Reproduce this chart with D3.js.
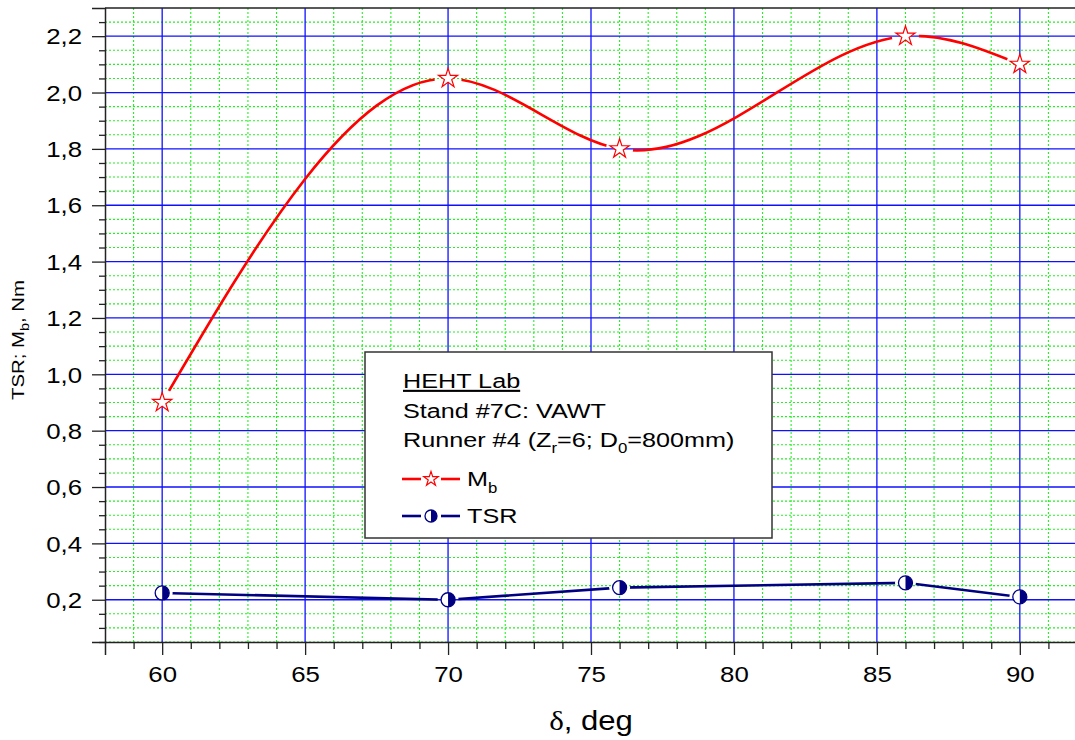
<!DOCTYPE html>
<html>
  <head>
    <meta charset="UTF-8">
    <style>
      body { margin: 0; background: #fff; }
      svg text { font-family: "Liberation Sans", Arial, sans-serif; fill: #000; }
    </style>
  </head>
  <body>
    <svg id="chart" width="1075" height="740"></svg>

    <script src="https://d3js.org/d3.v7.min.js"></script>
    <script>
      // chart data
      var delta = [60, 70, 76, 86, 90];
      var mb = [0.9, 2.05, 1.8, 2.2, 2.1];
      var tsr = [0.224, 0.2, 0.243, 0.26, 0.21];

      var xMajor = [60, 65, 70, 75, 80, 85, 90];
      var yMajor = [0.2, 0.4, 0.6, 0.8, 1.0, 1.2, 1.4, 1.6, 1.8, 2.0, 2.2];

      // natural cubic spline with x as the parameter (like Origin's spline connect)
      function curveSplineX(context) {
        var xs, ys;
        return {
          areaStart: function() {}, areaEnd: function() {},
          lineStart: function() { xs = []; ys = []; },
          point: function(px, py) { xs.push(+px); ys.push(+py); },
          lineEnd: function() {
            var n = xs.length;
            if (n < 3) {
              xs.forEach(function(v, i) { i ? context.lineTo(v, ys[i]) : context.moveTo(v, ys[i]); });
              return;
            }
            var h = [], d = [];
            for (var i = 0; i < n - 1; i++) { h.push(xs[i + 1] - xs[i]); d.push((ys[i + 1] - ys[i]) / h[i]); }
            // tridiagonal solve for second derivatives, M0 = Mn = 0
            var a = [], b = [], c = [], r = [];
            for (i = 1; i < n - 1; i++) {
              a.push(h[i - 1]); b.push(2 * (h[i - 1] + h[i])); c.push(h[i]); r.push(6 * (d[i] - d[i - 1]));
            }
            var m = a.length;
            for (i = 1; i < m; i++) {
              var w = a[i] / b[i - 1];
              b[i] -= w * c[i - 1]; r[i] -= w * r[i - 1];
            }
            var M = new Array(n).fill(0);
            M[m] = r[m - 1] / b[m - 1];
            for (i = m - 2; i >= 0; i--) M[i + 1] = (r[i] - c[i] * M[i + 2]) / b[i];
            context.moveTo(xs[0], ys[0]);
            for (i = 0; i < n - 1; i++) {
              var s0 = d[i] - h[i] * (2 * M[i] + M[i + 1]) / 6;
              var s1 = d[i] + h[i] * (M[i] + 2 * M[i + 1]) / 6;
              context.bezierCurveTo(xs[i] + h[i] / 3, ys[i] + s0 * h[i] / 3,
                                    xs[i + 1] - h[i] / 3, ys[i + 1] - s1 * h[i] / 3,
                                    xs[i + 1], ys[i + 1]);
            }
          }
        };
      }

      (function () {
        var svg = d3.select("#chart");
        var SX = 1.2; // the reference text is drawn wide

        var pLeft = 105, pTop = 8, pBottom = 642, pRight = 1077;

        var x = d3.scaleLinear().domain([58, 92]).range([pLeft, pRight]);
        var y = d3.scaleLinear().domain([0.05, 2.3]).range([pBottom, pTop]);

        // minor steps: 1 deg on x, 0.05 on y
        var xMinor = d3.range(59, 92, 1).filter(function(v) { return v % 5 != 0; });
        var yMinor = d3.range(1, 46).map(function(i) { return +(i * 0.05).toFixed(2); })
          .filter(function(v) { return Math.abs(v / 0.2 - Math.round(v / 0.2)) > 1e-6; });

        var grid = svg.append("g");

        // green dotted minor grid
        grid.selectAll(".gx").data(xMinor).enter().append("line")
            .attr("x1", function(d) { return x(d); }).attr("x2", function(d) { return x(d); })
            .attr("y1", pTop).attr("y2", pBottom)
            .attr("stroke", "#22f022").attr("stroke-width", 1.1).attr("stroke-dasharray", "2,2");
        grid.selectAll(".gy").data(yMinor).enter().append("line")
            .attr("y1", function(d) { return y(d); }).attr("y2", function(d) { return y(d); })
            .attr("x1", pLeft).attr("x2", pRight)
            .attr("stroke", "#22f022").attr("stroke-width", 1.1).attr("stroke-dasharray", "2,2");

        // blue major grid
        grid.selectAll(".bx").data(xMajor).enter().append("line")
            .attr("x1", function(d) { return x(d); }).attr("x2", function(d) { return x(d); })
            .attr("y1", pTop).attr("y2", pBottom)
            .attr("stroke", "#1010ff").attr("stroke-width", 1.3);
        grid.selectAll(".by").data(yMajor).enter().append("line")
            .attr("y1", function(d) { return y(d); }).attr("y2", function(d) { return y(d); })
            .attr("x1", pLeft).attr("x2", pRight)
            .attr("stroke", "#1010ff").attr("stroke-width", 1.3);

        // axes
        var fmt = function(d) { return d3.format(".1f")(d).replace(".", ","); };

        var yAxis = svg.append("g").attr("transform", "translate(" + pLeft + ",0)");
        yAxis.call(d3.axisLeft(y).tickValues(yMajor).tickSize(13).tickFormat(fmt));
        yAxis.selectAll(".tick text").attr("x", -23 / SX).attr("dy", "0.36em")
            .attr("transform", "scale(" + SX + ",1)");
        yAxis.append("g").call(d3.axisLeft(y).tickValues(yMinor).tickSize(6).tickFormat(""))
            .select(".domain").remove();

        var xAxis = svg.append("g").attr("transform", "translate(0," + pBottom + ")");
        xAxis.call(d3.axisBottom(x).tickValues(xMajor).tickSize(13).tickFormat(d3.format("d")));
        xAxis.selectAll(".tick text").attr("y", 40).attr("dy", null)
            .attr("transform", "scale(" + SX + ",1)");
        xAxis.append("g").call(d3.axisBottom(x).tickValues(xMinor).tickSize(7).tickFormat(""))
            .select(".domain").remove();

        svg.selectAll(".domain").attr("stroke", "#222").attr("stroke-width", 1.5);
        svg.selectAll(".tick line").attr("stroke", "#222").attr("stroke-width", 1.3);
        svg.selectAll(".tick text").style("font-family", "Liberation Sans, Arial, sans-serif")
            .style("font-size", "21.5px").attr("fill", "#000");

        // top frame line
        svg.append("line").attr("x1", pLeft).attr("x2", pRight).attr("y1", pTop).attr("y2", pTop)
            .attr("stroke", "#222").attr("stroke-width", 1.5);

        // axis titles
        var yt = svg.append("text")
            .attr("transform", "translate(24," + ((pTop + pBottom) / 2 + 15) + ") rotate(-90) scale(" + SX + ",1)")
            .attr("text-anchor", "middle").style("font-size", "17px");
        yt.append("tspan").text("TSR; M");
        yt.append("tspan").text("b").style("font-size", "12px").attr("dy", 5);
        yt.append("tspan").text(", Nm").attr("dy", -5);

        var xt = svg.append("text")
            .attr("transform", "translate(" + x(75) + ",730) scale(1.15,1)")
            .attr("text-anchor", "middle").style("font-size", "27px");
        xt.append("tspan").text("δ").style("font-family", "Liberation Serif, Times New Roman, serif");
        xt.append("tspan").text(", deg");

        // masks to leave gaps in the lines around the markers
        var defs = svg.append("defs");
        function gapMask(id, ys, r) {
          var m = defs.append("mask").attr("id", id).attr("maskUnits", "userSpaceOnUse")
              .attr("x", 0).attr("y", 0).attr("width", 1075).attr("height", 740);
          m.append("rect").attr("width", 1075).attr("height", 740).attr("fill", "#fff");
          m.selectAll("circle").data(delta).enter().append("circle")
              .attr("cx", function(d) { return x(d); })
              .attr("cy", function(d, i) { return y(ys[i]); })
              .attr("r", r).attr("fill", "#000");
        }
        gapMask("gap-mb", mb, 13.5);
        gapMask("gap-tsr", tsr, 10.5);

        var pts = function(ys) { return delta.map(function(d, i) { return [d, ys[i]]; }); };

        svg.append("path").datum(pts(mb))
            .attr("d", d3.line().x(function(d) { return x(d[0]); }).y(function(d) { return y(d[1]); }).curve(curveSplineX))
            .attr("fill", "none").attr("stroke", "#ff0000").attr("stroke-width", 2.6)
            .attr("mask", "url(#gap-mb)");

        svg.append("path").datum(pts(tsr))
            .attr("d", d3.line().x(function(d) { return x(d[0]); }).y(function(d) { return y(d[1]); }))
            .attr("fill", "none").attr("stroke", "#000080").attr("stroke-width", 2.6)
            .attr("mask", "url(#gap-tsr)");

        // markers
        function drawStar(g, cx, cy, size) {
          g.append("path").attr("d", d3.symbol().type(d3.symbolStar).size(size)())
              .attr("transform", "translate(" + cx + "," + cy + ")")
              .attr("fill", "#fff").attr("stroke", "#ff0000").attr("stroke-width", 1.2);
        }
        function drawHalf(g, cx, cy, r) {
          g.append("circle").attr("cx", cx).attr("cy", cy).attr("r", r)
              .attr("fill", "#fff").attr("stroke", "#000080").attr("stroke-width", 1.3);
          g.append("path")
              .attr("d", "M" + cx + "," + (cy - r) + " A" + r + "," + r + " 0 0 1 " + cx + "," + (cy + r) + " Z")
              .attr("fill", "#000080");
        }

        var marks = svg.append("g");
        delta.forEach(function(d, i) { drawStar(marks, x(d), y(mb[i]), 115); });
        delta.forEach(function(d, i) { drawHalf(marks, x(d), y(tsr[i]), 7); });

        // legend box
        var lg = svg.append("g").attr("transform", "translate(365,352)");
        lg.append("rect").attr("width", 407).attr("height", 186)
            .attr("fill", "#fff").attr("stroke", "#333").attr("stroke-width", 1.5);

        function ltext(tx, ty) {
          return lg.append("text").attr("transform", "translate(" + tx + "," + ty + ") scale(" + SX + ",1)")
              .style("font-size", "21px");
        }
        ltext(38, 36).style("text-decoration", "underline").text("HEHT Lab");
        ltext(38, 66).text("Stand #7C: VAWT");
        var r4 = ltext(38, 95);
        r4.append("tspan").text("Runner #4 (Z");
        r4.append("tspan").text("r").style("font-size", "14px").attr("dy", 6);
        r4.append("tspan").text("=6; D").attr("dy", -6);
        r4.append("tspan").text("0").style("font-size", "14px").attr("dy", 6);
        r4.append("tspan").text("=800mm)").attr("dy", -6);

        // legend samples
        lg.append("line").attr("x1", 37).attr("x2", 56).attr("y1", 127).attr("y2", 127)
            .attr("stroke", "#ff0000").attr("stroke-width", 2.6);
        lg.append("line").attr("x1", 76).attr("x2", 95).attr("y1", 127).attr("y2", 127)
            .attr("stroke", "#ff0000").attr("stroke-width", 2.6);
        drawStar(lg, 66, 127, 65);
        var lm = ltext(102, 134);
        lm.append("tspan").text("M");
        lm.append("tspan").text("b").style("font-size", "14px").attr("dy", 7);

        lg.append("line").attr("x1", 37).attr("x2", 56).attr("y1", 164).attr("y2", 164)
            .attr("stroke", "#000080").attr("stroke-width", 2.6);
        lg.append("line").attr("x1", 76).attr("x2", 95).attr("y1", 164).attr("y2", 164)
            .attr("stroke", "#000080").attr("stroke-width", 2.6);
        drawHalf(lg, 66, 164, 6);
        ltext(102, 171).text("TSR");
      })();
    </script>
  </body>
</html>
